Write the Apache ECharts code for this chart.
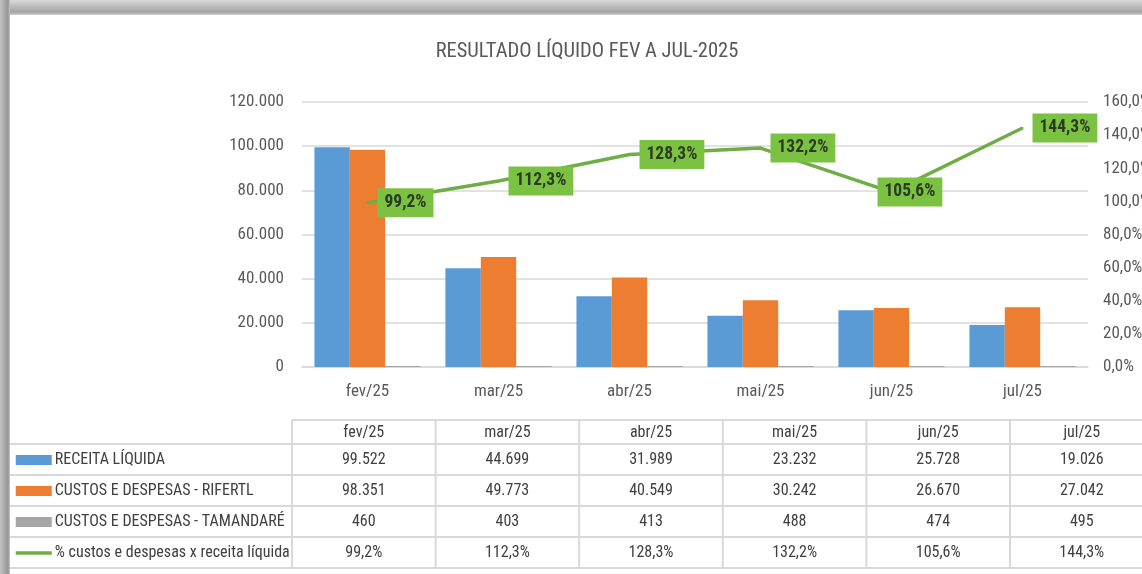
<!DOCTYPE html>
<html>
<head>
<meta charset="utf-8">
<script src="https://cdn.jsdelivr.net/npm/echarts@6/dist/echarts.min.js"></script>
<style>
  html, body { margin: 0; padding: 0; background: #fff; }
  #chart { width: 1142px; height: 574px; }
</style>
</head>
<body>
<div id="chart"></div>
<script>
var categories = ['fev/25', 'mar/25', 'abr/25', 'mai/25', 'jun/25', 'jul/25'];
var receitaLiquida = [99522, 44699, 31989, 23232, 25728, 19026];
var custosRifertl = [98351, 49773, 40549, 30242, 26670, 27042];
var custosTamandare = [460, 403, 413, 488, 474, 495];
var pctCustos = [99.2, 112.3, 128.3, 132.2, 105.6, 144.3];

var seriesNames = [
    'RECEITA LÍQUIDA',
    'CUSTOS E DESPESAS - RIFERTL',
    'CUSTOS E DESPESAS - TAMANDARÉ',
    '% custos e despesas x receita líquida'
];

var FONT = '"Liberation Sans Narrow", "Arial Narrow", "Roboto Condensed", sans-serif';
var TXT = '#404040';
var GRID_LINE = '#d9d9d9';

// formato pt-BR
function fmtInt(n) {
    return String(n).replace(/\B(?=(\d{3})+(?!\d))/g, '.');
}
function fmtPct(v) {
    return v.toFixed(1).replace('.', ',') + '%';
}

/**
 * tabela de dados abaixo do gráfico (linhas, cabeçalho e valores)
 */
function buildTable() {
    var els = [];
    var x0 = 292, colW = 143.6, top = 420, headH = 24, rowH = 31, right = 1142;
    var rows = [receitaLiquida, custosRifertl, custosTamandare, pctCustos];
    var bottom = top + headH + rowH * rows.length;

    // linhas horizontais
    els.push({type: 'line', shape: {x1: x0, y1: top, x2: right, y2: top},
        style: {stroke: GRID_LINE, lineWidth: 2}});
    for (var r = 0; r <= rows.length; r++) {
        var y = top + headH + rowH * r;
        els.push({type: 'line', shape: {x1: 10, y1: y, x2: right, y2: y},
            style: {stroke: GRID_LINE, lineWidth: 2}});
    }
    // linhas verticais
    for (var c = 0; c < categories.length; c++) {
        var x = x0 + colW * c;
        els.push({type: 'line', shape: {x1: x, y1: top, x2: x, y2: bottom},
            style: {stroke: GRID_LINE, lineWidth: 2}});
    }
    // cabeçalho
    categories.forEach(function (cat, i) {
        els.push({type: 'text', style: {
            text: cat, x: x0 + colW * (i + 0.5), y: top + headH / 2 + 1,
            align: 'center', verticalAlign: 'middle',
            textAlign: 'center', textVerticalAlign: 'middle',
            font: '16px ' + FONT, fill: TXT}});
    });
    // valores
    rows.forEach(function (vals, r) {
        vals.forEach(function (v, i) {
            els.push({type: 'text', style: {
                text: r === 3 ? fmtPct(v) : fmtInt(v),
                x: x0 + colW * (i + 0.5), y: top + headH + rowH * (r + 0.5),
                align: 'center', verticalAlign: 'middle',
                textAlign: 'center', textVerticalAlign: 'middle',
                font: '16px ' + FONT, fill: TXT}});
        });
    });
    return els;
}

// sombra da captura de tela (borda superior e esquerda)
var frameEls = [
    {type: 'rect', z: -1, shape: {x: 0, y: 0, width: 1142, height: 15},
        style: {fill: {type: 'linear', x: 0, y: 0, x2: 0, y2: 1, colorStops: [
            {offset: 0, color: '#d9d9d9'}, {offset: 0.8, color: '#a3a3a3'}, {offset: 1, color: '#cfcfcf'}]}}},
    {type: 'rect', z: -1, shape: {x: 0, y: 0, width: 10, height: 574},
        style: {fill: {type: 'linear', x: 0, y: 0, x2: 1, y2: 0, colorStops: [
            {offset: 0, color: '#c2c2c2'}, {offset: 0.8, color: '#949494'}, {offset: 1, color: '#c8c8c8'}]}}}
];

var lineData = pctCustos.map(function (v, i) {
    // rótulo de jun/25 fica deslocado para a esquerda no original
    if (categories[i] === 'jun/25') {
        return {value: v, label: {offset: [-24, 0]}};
    }
    return v;
});

var option = {
    backgroundColor: '#fff',
    animation: false,
    title: {
        text: 'RESULTADO LÍQUIDO FEV A JUL-2025',
        left: 582,
        textAlign: 'center',
        top: 36,
        textStyle: {fontFamily: FONT, fontSize: 20.5, fontWeight: 'normal', color: '#595959'}
    },
    legend: {
        orient: 'vertical',
        left: 14,
        top: 450,
        padding: 0,
        itemWidth: 36,
        itemHeight: 10,
        itemGap: 11,
        selectedMode: false,
        data: [
            {name: seriesNames[0], icon: 'rect'},
            {name: seriesNames[1], icon: 'rect'},
            {name: seriesNames[2], icon: 'rect'},
            {name: seriesNames[3], itemStyle: {opacity: 0}, lineStyle: {width: 3.5}}
        ],
        textStyle: {fontFamily: FONT, fontSize: 16, lineHeight: 20, color: TXT, padding: [0, 0, 0, -2]}
    },
    grid: {left: 302, right: 54, top: 102, bottom: 207, containLabel: false, outerBoundsMode: 'none'},
    xAxis: {
        type: 'category',
        data: categories,
        axisLine: {lineStyle: {color: GRID_LINE, width: 1.5}},
        axisTick: {show: false},
        axisLabel: {fontFamily: FONT, fontSize: 17, color: '#595959', margin: 16}
    },
    yAxis: [
        {
            type: 'value',
            min: 0, max: 120000, interval: 20000,
            axisLine: {show: false},
            axisTick: {show: false},
            splitLine: {lineStyle: {color: GRID_LINE, width: 1.5}},
            axisLabel: {fontFamily: FONT, fontSize: 17, color: '#595959', margin: 18,
                formatter: function (v) { return fmtInt(v); }}
        },
        {
            type: 'value',
            min: 0, max: 160, interval: 20,
            axisLine: {show: false},
            axisTick: {show: false},
            splitLine: {show: false},
            axisLabel: {fontFamily: FONT, fontSize: 17, color: '#595959', margin: 15,
                formatter: function (v) { return fmtPct(v); }}
        }
    ],
    series: [
        {
            name: seriesNames[0], type: 'bar', data: receitaLiquida,
            barGap: '0%', barCategoryGap: '19%',
            itemStyle: {color: '#5b9bd5'}
        },
        {
            name: seriesNames[1], type: 'bar', data: custosRifertl,
            barGap: '0%', barCategoryGap: '19%',
            itemStyle: {color: '#ed7d31'}
        },
        {
            name: seriesNames[2], type: 'bar', data: custosTamandare,
            barGap: '0%', barCategoryGap: '19%',
            itemStyle: {color: '#a5a5a5'}
        },
        {
            name: seriesNames[3], type: 'line', yAxisIndex: 1, data: lineData,
            symbol: 'circle',
            symbolSize: 2,
            lineStyle: {color: '#70ad47', width: 3.5},
            itemStyle: {color: '#70ad47'},
            z: 5,
            label: {
                show: true,
                position: 'right',
                distance: 9,
                formatter: function (p) { return fmtPct(p.value); },
                backgroundColor: '#7cc242',
                padding: [6, 7, 5, 7],
                fontFamily: FONT,
                fontSize: 17.5,
                fontWeight: 'bold',
                color: '#2b3a22'
            }
        }
    ],
    graphic: frameEls.concat(buildTable())
};

var myChart = echarts.init(document.getElementById('chart'));
myChart.setOption(option);
</script>
</body>
</html>
